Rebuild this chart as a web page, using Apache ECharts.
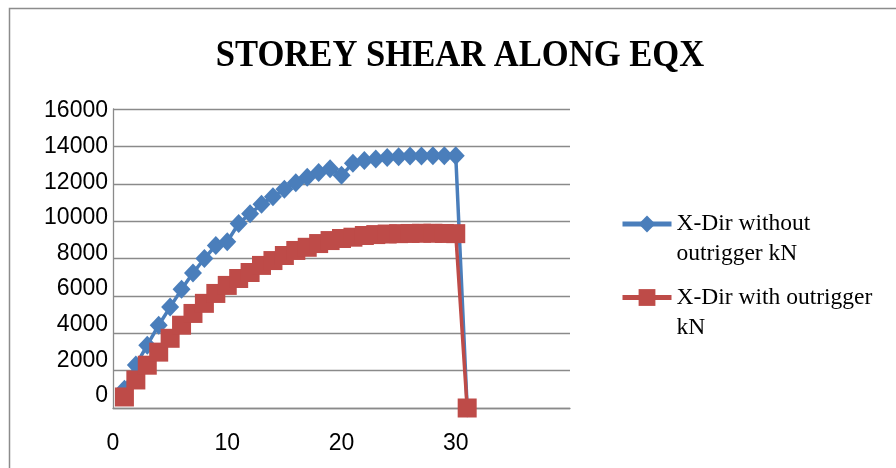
<!DOCTYPE html>
<html>
<head>
<meta charset="utf-8">
<script src="https://cdn.jsdelivr.net/npm/echarts@6/dist/echarts.min.js"></script>
<style>html,body{margin:0;padding:0;background:#fff}#chart{width:896px;height:468px}</style>
</head>
<body>
<div id="chart"></div>
<script>
const titleText = 'STOREY SHEAR ALONG EQX';
const storeys = [1,2,3,4,5,6,7,8,9,10,11,12,13,14,15,16,17,18,19,20,21,22,23,24,25,26,27,28,29,30,31];
const withoutOutrigger = [1000,2300,3360,4430,5400,6350,7220,8000,8700,8900,9870,10400,10900,11300,11700,12050,12350,12600,12800,12450,13100,13250,13330,13400,13450,13480,13490,13500,13500,13500,0];
const withOutrigger = [590,1500,2290,2990,3730,4430,5060,5600,6130,6560,6930,7250,7630,7890,8160,8430,8600,8800,8960,9070,9140,9230,9280,9310,9330,9340,9350,9350,9340,9330,0];
const seriesNames = ['X-Dir without outrigger kN', 'X-Dir with outrigger kN'];
const legendLabels = ['X-Dir without\noutrigger kN', 'X-Dir with outrigger\nkN'];
const yTicks = [0,2000,4000,6000,8000,10000,12000,14000,16000];
const xTicks = [0,10,20,30];

const blue = '#4a7ebb';
const red = '#be4b48';
const gridGray = '#8a8a8a';

const chart = echarts.init(document.getElementById('chart'), null, {renderer: 'canvas'});

function pairs(ys) { return storeys.map((x, i) => [x, ys[i]]); }

const legendCommon = {
  orient: 'vertical', left: 620, padding: 0,
  itemWidth: 49, itemHeight: 21,
  textStyle: {fontFamily: '"Liberation Serif", serif', fontSize: 23.5, color: '#000', lineHeight: 30},
  formatter: name => '\n' + legendLabels[seriesNames.indexOf(name)],
  lineStyle: {width: 5},
  selectedMode: false
};

chart.setOption({
  animation: false,
  backgroundColor: '#fff',
  graphic: [
    {type: 'rect', shape: {x: 9.5, y: 8.5, width: 1000, height: 1000}, style: {fill: 'none', stroke: '#8c8c8c', lineWidth: 1.5}, z: -1},
    {type: 'text', x: 460, y: 56, scaleX: 0.91, style: {text: titleText, font: 'bold 38px "Liberation Serif"', fill: '#000', textAlign: 'center', textVerticalAlign: 'middle'}}
  ],
  legend: [
    Object.assign({}, legendCommon, {data: [seriesNames[0]], top: 224 - 45}),
    Object.assign({}, legendCommon, {data: [seriesNames[1]], top: 297.5 - 45})
  ],
  grid: {left: 113, top: 109, right: 326, bottom: 60, containLabel: false},
  xAxis: {
    type: 'value', min: 0, max: 40, interval: 10,
    axisLine: {show: true, lineStyle: {color: gridGray, width: 1.3}},
    axisTick: {show: false},
    splitLine: {show: false},
    axisLabel: {
      margin: 24, color: '#000', fontFamily: '"Liberation Sans", Arial, sans-serif', fontSize: 23,
      formatter: v => (xTicks.indexOf(v) >= 0 ? String(v) : '')
    }
  },
  yAxis: [
    {
      type: 'value', min: 0, max: 16000, interval: 2000,
      axisLine: {show: true, lineStyle: {color: gridGray, width: 1.3}},
      axisTick: {show: false},
      splitLine: {show: true, lineStyle: {color: gridGray, width: 1.3}},
      axisLabel: {show: false}
    },
    {
      type: 'value', min: -674, max: 16112, position: 'left',
      axisLine: {show: false}, axisTick: {show: false}, splitLine: {show: false},
      axisLabel: {
        customValues: yTicks, margin: 5, color: '#000',
        fontFamily: '"Liberation Sans", Arial, sans-serif', fontSize: 23,
        formatter: v => String(v)
      }
    }
  ],
  series: [
    {
      name: seriesNames[0], type: 'line', data: pairs(withoutOutrigger),
      symbol: 'diamond', symbolSize: [18, 19],
      lineStyle: {color: blue, width: 3.5}, itemStyle: {color: blue}
    },
    {
      name: seriesNames[1], type: 'line', data: pairs(withOutrigger),
      symbol: 'rect', symbolSize: 19,
      lineStyle: {color: red, width: 3.5}, itemStyle: {color: red}
    }
  ]
});
</script>
</body>
</html>
